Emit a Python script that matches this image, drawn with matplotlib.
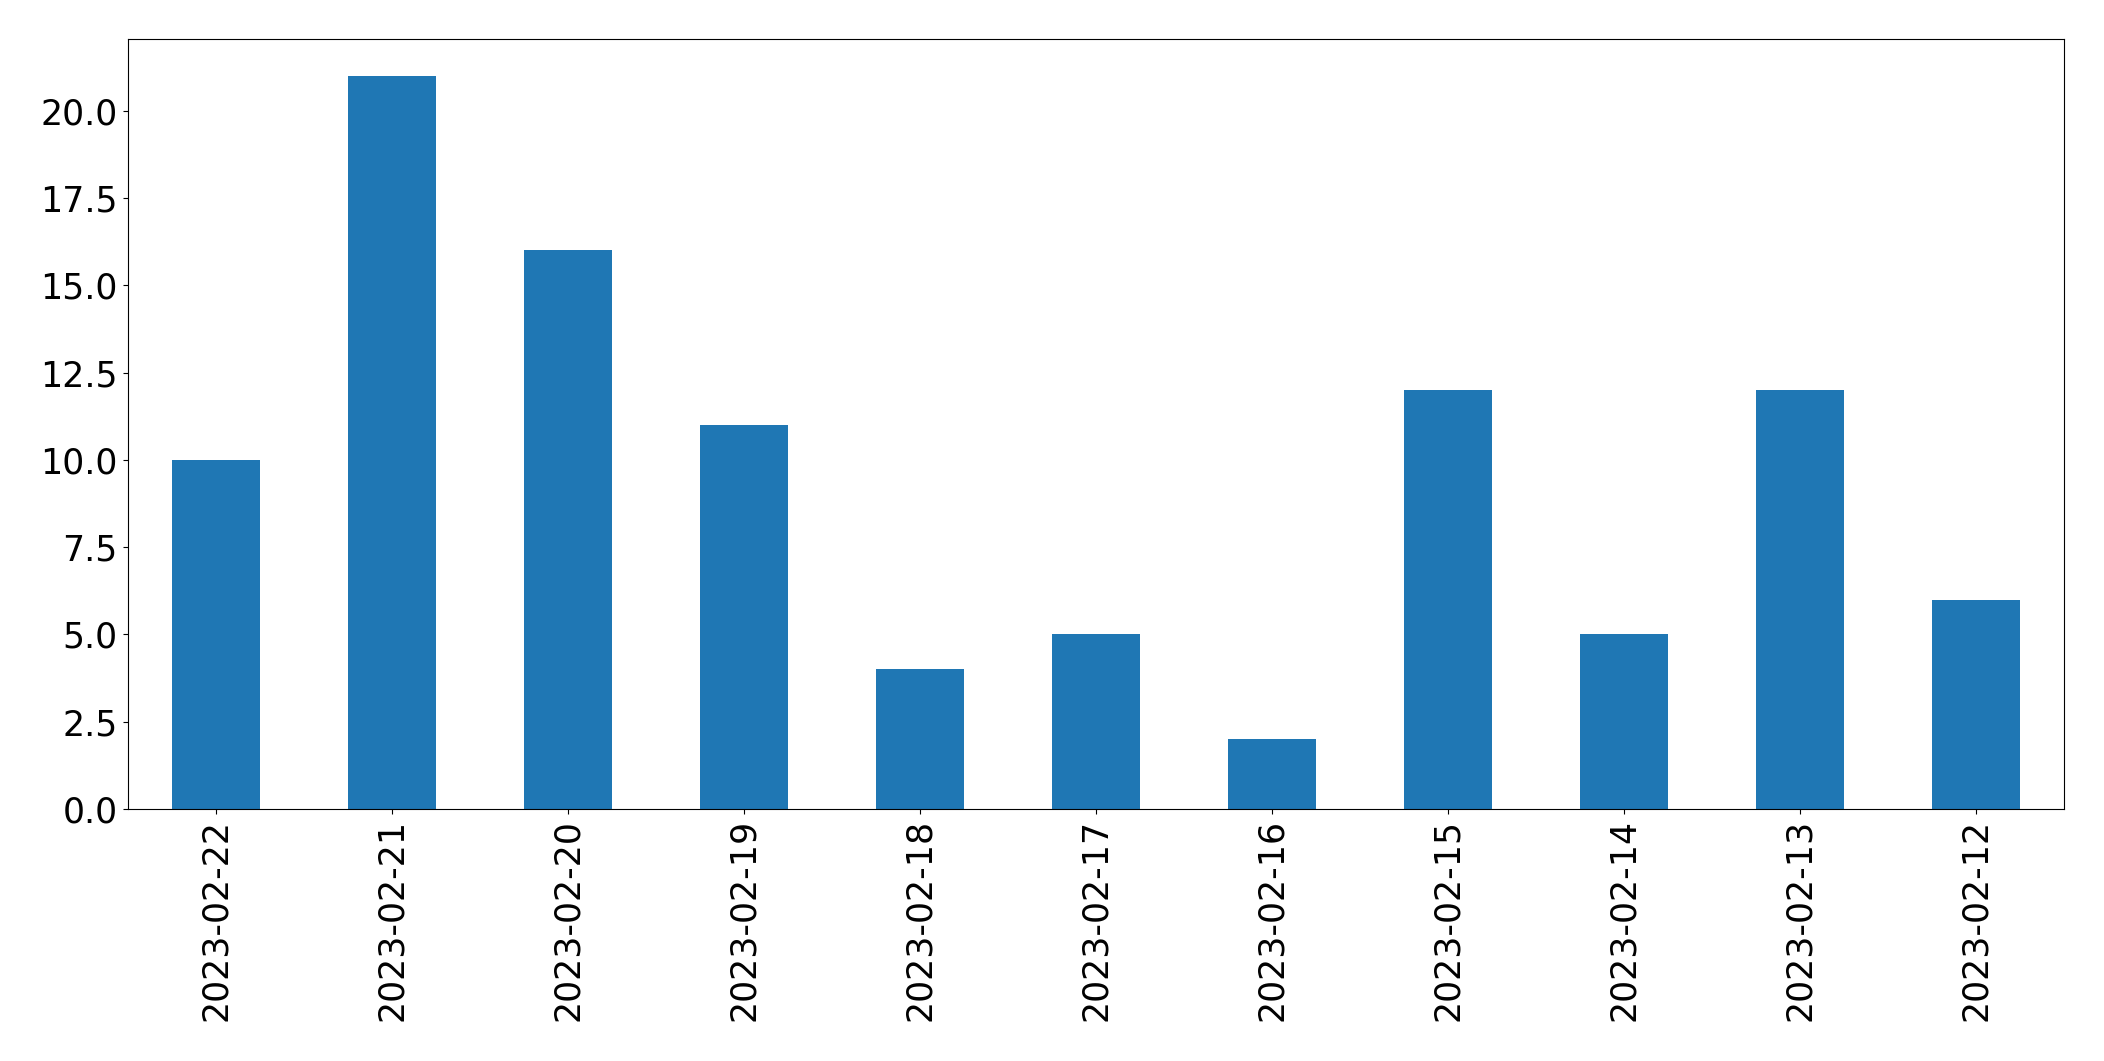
import matplotlib
matplotlib.use('Agg')
import matplotlib.pyplot as plt
import numpy as np

# 数据 / data
dates = ['2023-02-22', '2023-02-21', '2023-02-20', '2023-02-19', '2023-02-18',
         '2023-02-17', '2023-02-16', '2023-02-15', '2023-02-14', '2023-02-13',
         '2023-02-12']
counts = [10, 21, 16, 11, 4, 5, 2, 12, 5, 12, 6]

fig = plt.figure(figsize=(21.04, 10.61), dpi=100)
ax = fig.add_axes([0.0606, 0.2375, 0.9204, 0.7255])
x = np.arange(len(dates))
ax.bar(x, counts, width=0.5, color='#1f77b4', linewidth=0)
ax.set_xlim(-0.5, len(dates) - 0.5)
ax.set_xticks(x)
ax.set_xticklabels(dates, rotation=90)
ax.tick_params(labelsize=25)
fig.savefig('out.png', dpi=100)
